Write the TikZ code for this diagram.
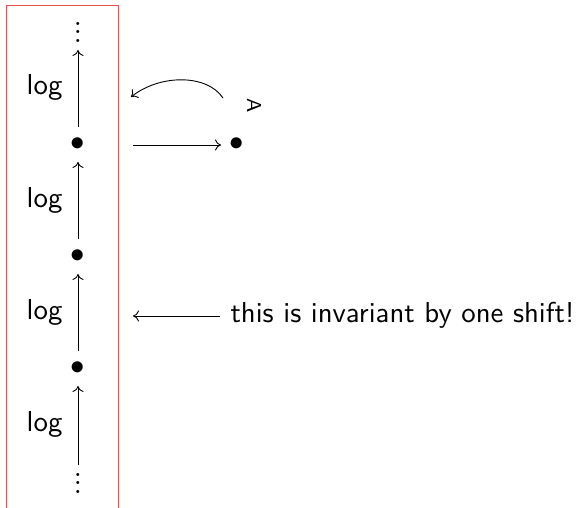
\documentclass[tikz,border=0pt]{standalone}
\usetikzlibrary{arrows.meta}
\newcommand\myvdots{\vbox{\baselineskip=2.95pt\lineskiplimit=0pt\hbox{.}\hbox{.}\hbox{.}}}
\begin{document}
\begin{tikzpicture}[x=1pt,y=-1pt,
  txt/.style={font=\sffamily, scale=2.88, inner sep=0pt},
  bul/.style={scale=2.88, inner sep=0pt},
  arr/.style={line width=0.9pt, -{To[length=6pt,width=11pt]}},
  frame/.style={draw={rgb,255:red,232;green,80;blue,80}, line width=0.9pt}]
\useasboundingbox (0,0) rectangle (578,508);
\draw[frame] (6,508) -- (6,5) -- (118,5) -- (118,508);
% column
\node[bul] (top) at (78,32) {\myvdots};
\node[bul] (d1) at (78,144) {$\bullet$};
\node[bul] (d2) at (78,256) {$\bullet$};
\node[bul] (d3) at (78,368) {$\bullet$};
\node[bul] (bot) at (78,483) {\myvdots};
\node[txt, anchor=base east] (l1) at (63,95) {log};
\node[txt, anchor=base east] (l2) at (63,207) {log};
\node[txt, anchor=base east] (l3) at (63,319) {log};
\node[txt, anchor=base east] (l4) at (63,431) {log};
\draw[arr] ([yshift=17pt]d1.center) -- ([yshift=-18pt]top.center);
\draw[arr] ([yshift=17pt]d2.center) -- ([yshift=-18pt]d1.center);
\draw[arr] ([yshift=17pt]d3.center) -- ([yshift=-18pt]d2.center);
\draw[arr] ([yshift=18pt]bot.center) -- ([yshift=-18pt]d3.center);
% right part
\node[bul] (d4) at (237,144) {$\bullet$};
\coordinate (h0) at (133,145);
\draw[arr] (h0) -- ([xshift=-16pt,yshift=-1pt]d4.center);
\node[font=\sffamily, scale=2.88, inner sep=0pt, rotate=-90] (sig) at (254,106) {\scriptsize A};
\coordinate (c1) at (223,98);
\coordinate (c2) at (131,97);
\draw[arr] (c1) .. controls (207,74) and (160,74) .. (c2);
\node[txt, anchor=base west] (msg) at (230,322) {this is invariant by one shift!};
\coordinate (m0) at (133,316);
\draw[arr] ([xshift=-10pt]msg.west |- m0) -- (m0);
\end{tikzpicture}
\end{document}
